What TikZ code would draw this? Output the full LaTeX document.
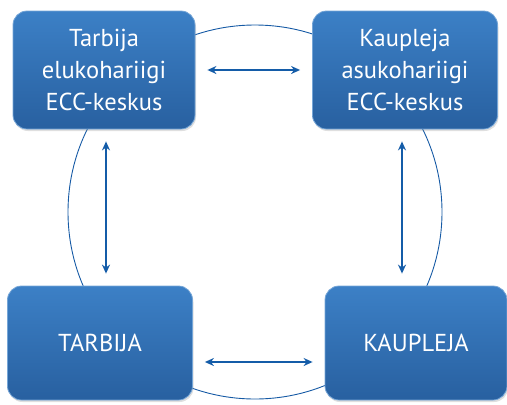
\documentclass[tikz,border=0pt]{standalone}
\usepackage{fontspec}
\setmainfont{PT Sans}
\usepackage{tikz}
\usetikzlibrary{arrows.meta,shadows}
\definecolor{boxtop}{RGB}{60,128,198}
\definecolor{boxbot}{RGB}{40,96,160}
\definecolor{ringblue}{RGB}{22,90,165}
\definecolor{arrowblue}{RGB}{20,92,168}

\begin{document}
\begin{tikzpicture}[x=1pt,y=-1pt,
    centerbox/.style={rounded corners=14pt,top color=boxtop,bottom color=boxbot,
      draw=boxtop!70!white,line width=0.8pt,text=white,align=center,
      font=\fontsize{24.5}{32}\selectfont,inner sep=0pt,
      drop shadow={opacity=0.25,shadow xshift=1pt,shadow yshift=-2pt}},
    link/.style={arrowblue,line width=1.5pt,{Stealth[length=9pt,width=8pt]}-{Stealth[length=9pt,width=8pt]},
      shorten <=12pt,shorten >=12pt}]
                \useasboundingbox (0,0) rectangle (507,405);
                % Ring behind the boxes
                \draw[ringblue,line width=0.9pt] (255,212) circle (187);
                % ECC centres
                \node[centerbox,minimum width=182pt,minimum height=118pt] (tl) at (104,70) {Tarbija\\elukohariigi\\ECC-keskus};
                \node[centerbox,minimum width=185pt,minimum height=118pt] (tr) at (405,70) {Kaupleja\\asukohariigi\\ECC-keskus};
                % Parties
                \node[centerbox,minimum width=185pt,minimum height=114pt] (bl) at (100,343) {TARBIJA};
                \node[centerbox,minimum width=182pt,minimum height=114pt] (br) at (416,343) {KAUPLEJA};
                % Two-way links
                \draw[link] (tl.east) -- (tr.west);
                \draw[link] ([yshift=-19pt]bl.east) -- ([yshift=-19pt]br.west);
                \draw[link] ([xshift=2pt]tl.south) -- ([xshift=2pt]tl.south |- bl.north);
                \draw[link] ([xshift=-3pt]tr.south) -- ([xshift=-3pt]tr.south |- br.north);
\end{tikzpicture}
\end{document}
